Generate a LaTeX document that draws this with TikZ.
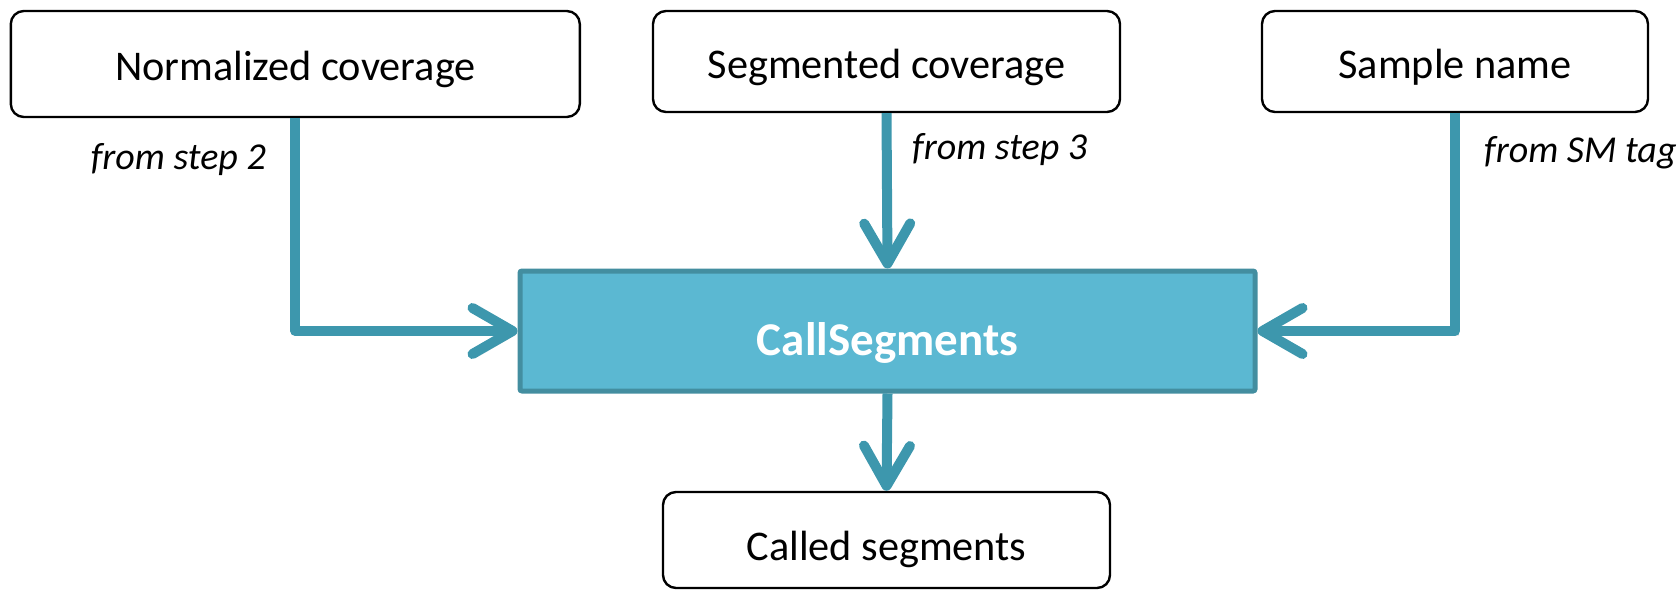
\documentclass[tikz,border=0pt]{standalone}
\usepackage{fontspec}
\setmainfont{Carlito}
\usetikzlibrary{arrows.meta}
\definecolor{flow}{HTML}{3D97AD}
\definecolor{corefill}{HTML}{5BB8D2}
\definecolor{coreedge}{HTML}{438EA0}
\begin{document}
\begin{tikzpicture}[x=1pt,y=-1pt,
  % text box placement: the baseline sits half the text height below the centre
  inbox/.style 2 args={draw=black, line width=2.4pt, rounded corners=13pt, fill=white,
    minimum width=#1, minimum height=#2, inner sep=0pt,
    text height=34pt, text depth=0pt,
    font=\fontsize{42.3}{50}\selectfont},
  core/.style={draw=coreedge, line width=5pt, rounded corners=2pt, fill=corefill,
    minimum width=735pt, minimum height=120pt, inner sep=0pt, text=white,
    text height=48pt, text depth=0pt,
    font=\fontsize{47}{56}\selectfont\bfseries},
  flowarrow/.style={draw=flow, line width=10pt, line join=round,
    -{Straight Barb[length=40pt,width=46pt,round]},
    preaction={draw=black!7, transform canvas={shift={(3pt,-4pt)}}},
    preaction={draw=black!13, transform canvas={shift={(1.5pt,-2pt)}}}},
  note/.style={font=\fontsize{38}{45}\selectfont\itshape, inner sep=0pt}
]
\useasboundingbox (0,0) rectangle (1678,591);

% input boxes
\node[inbox={569pt}{106pt}] (norm) at (295.3,64) {Normalized coverage};
\node[inbox={467pt}{101pt}] (seg)  at (886.5,61.5) {Segmented coverage};
\node[inbox={386pt}{101pt}] (name) at (1455,61.5) {Sample name};

% tool and its output
\node[core] (call) at (887.5,331) {CallSegments};
\node[inbox={447pt}{96pt}, text height=40pt] (out) at (886.5,540) {Called segments};

% connectors
\draw[flowarrow] (norm.south) |- (call.west);
\draw[flowarrow] (seg.south) -- (call.north);
\draw[flowarrow] (name.south) |- (call.east);
\draw[flowarrow] (call.south) -- (out.north);

% source notes
\node[note, anchor=east] (n1) at (266,160) {from step 2};
\node[note, anchor=west] (n2) at (912,150) {from step 3};
\node[note, anchor=west] (n3) at (1484,153) {from SM tag};
\end{tikzpicture}
\end{document}
